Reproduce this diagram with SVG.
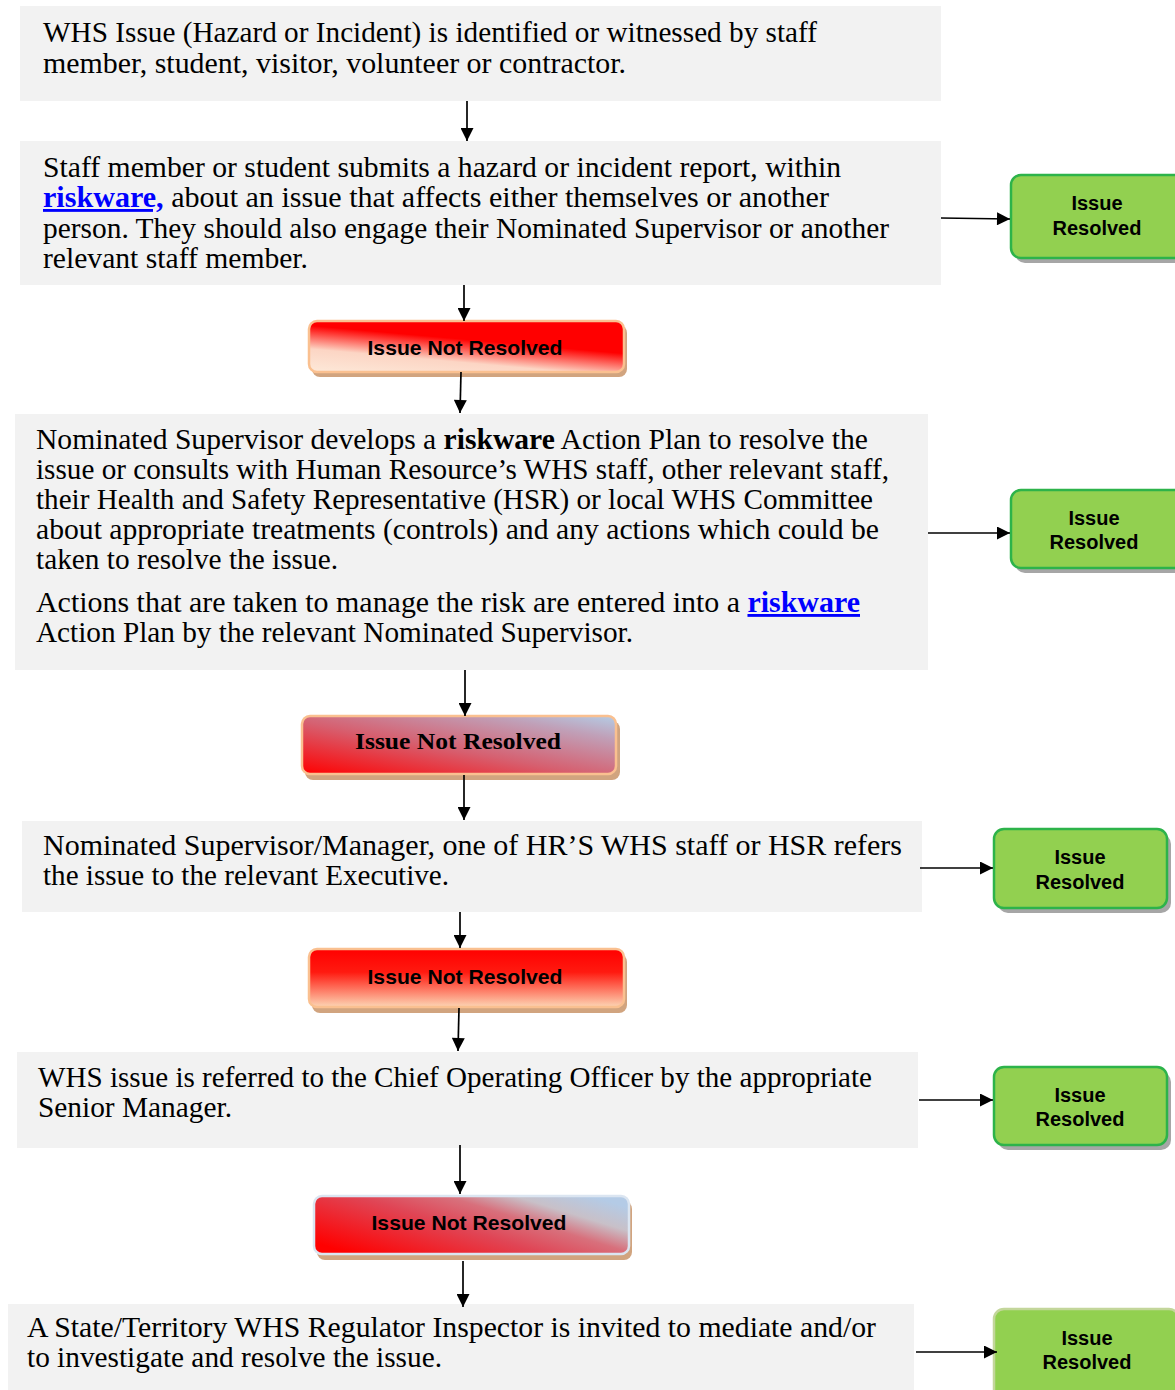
<svg xmlns="http://www.w3.org/2000/svg" width="1175" height="1390" viewBox="0 0 1175 1390">
<defs>
<style>
.box{fill:#f2f2f2}
.t{font-family:"Liberation Serif","Times New Roman",serif;font-size:28.5px;fill:#000}
.b{font-weight:bold}
.lnk{font-weight:bold;fill:#0000ff;text-decoration:underline}
.nr{font-family:"Liberation Sans",Arial,sans-serif;font-size:21px;font-weight:bold;fill:#000;text-anchor:middle}
.nrs{font-family:"Liberation Serif","Times New Roman",serif;font-size:23px;font-weight:bold;fill:#000;text-anchor:middle}
.gr{font-family:"Liberation Sans",Arial,sans-serif;font-size:20px;font-weight:bold;fill:#000;text-anchor:middle}
.rshadow{fill:#d1a47f}
.gshadow{fill:#a6a6a6}
.gbox{fill:#92d050;stroke:#2db34a;stroke-width:2.5}
.conn line{stroke:#000;stroke-width:1.7}
</style>
<marker id="ah" viewBox="0 0 10 10" refX="10" refY="5" markerWidth="15" markerHeight="13" markerUnits="userSpaceOnUse" orient="auto">
<path d="M0,0 L10,5 L0,10 z" fill="#000"/>
</marker>
<linearGradient id="g1" x1="0" y1="1" x2="0.55" y2="0" >
<stop offset="0" stop-color="#fde9d9"/>
<stop offset="0.35" stop-color="#fcd5c4"/>
<stop offset="0.7" stop-color="#ff0000"/>
<stop offset="1" stop-color="#ff0000"/>
</linearGradient>
<linearGradient id="g2" x1="0" y1="1" x2="1" y2="0">
<stop offset="0" stop-color="#ff0000"/>
<stop offset="0.45" stop-color="#d66070"/>
<stop offset="0.8" stop-color="#c0a0b8"/>
<stop offset="1" stop-color="#b4cde6"/>
</linearGradient>
<linearGradient id="g3" x1="0" y1="0" x2="0" y2="1">
<stop offset="0" stop-color="#ff0000"/>
<stop offset="0.4" stop-color="#ff1a10"/>
<stop offset="1" stop-color="#fcd5b4"/>
</linearGradient>
<linearGradient id="g4" x1="0" y1="0.8" x2="1" y2="0.2">
<stop offset="0" stop-color="#ff0000"/>
<stop offset="0.45" stop-color="#e04555"/>
<stop offset="0.66" stop-color="#d8707c"/>
<stop offset="0.82" stop-color="#c8c0c8"/>
<stop offset="1" stop-color="#b4cbe6"/>
</linearGradient>
</defs>

<g id="step1">
<rect class="box" x="20" y="6" width="921" height="95"/>
<text class="t" x="43" y="42" textLength="774" lengthAdjust="spacingAndGlyphs">WHS Issue (Hazard or Incident) is identified or witnessed by staff</text>
<text class="t" x="43" y="73" textLength="583" lengthAdjust="spacingAndGlyphs">member, student, visitor, volunteer or contractor.</text>
</g>

<g id="step2">
<rect class="box" x="20" y="141" width="921" height="144"/>
<text class="t" x="43" y="177" textLength="798" lengthAdjust="spacingAndGlyphs">Staff member or student submits a hazard or incident report, within</text>
<text class="t" x="43" y="207" textLength="786" lengthAdjust="spacingAndGlyphs"><tspan class="lnk">riskware,</tspan> about an issue that affects either themselves or another</text>
<text class="t" x="43" y="238" textLength="846" lengthAdjust="spacingAndGlyphs">person. They should also engage their Nominated Supervisor or another</text>
<text class="t" x="43" y="268" textLength="265" lengthAdjust="spacingAndGlyphs">relevant staff member.</text>
</g>

<g id="notres1">
<rect class="rshadow" x="312" y="325" width="315" height="52" rx="8"/>
<rect x="309" y="321" width="315" height="51" rx="8" fill="url(#g1)" stroke="#fac090" stroke-width="2.5"/>
<text class="nr" x="465" y="355" textLength="195" lengthAdjust="spacingAndGlyphs">Issue Not Resolved</text>
</g>

<g id="step3">
<rect class="box" x="15" y="414" width="913" height="256"/>
<text class="t" x="36" y="449" textLength="832" lengthAdjust="spacingAndGlyphs">Nominated Supervisor develops a <tspan class="b">riskware</tspan> Action Plan to resolve the</text>
<text class="t" x="36" y="479" textLength="853" lengthAdjust="spacingAndGlyphs">issue or consults with Human Resource’s WHS staff, other relevant staff,</text>
<text class="t" x="36" y="509" textLength="837" lengthAdjust="spacingAndGlyphs">their Health and Safety Representative (HSR) or local WHS Committee</text>
<text class="t" x="36" y="539" textLength="843" lengthAdjust="spacingAndGlyphs">about appropriate treatments (controls) and any actions which could be</text>
<text class="t" x="36" y="569" textLength="302" lengthAdjust="spacingAndGlyphs">taken to resolve the issue.</text>
<text class="t" x="36" y="612" textLength="824" lengthAdjust="spacingAndGlyphs">Actions that are taken to manage the risk are entered into a <tspan class="lnk">riskware</tspan></text>
<text class="t" x="36" y="642" textLength="597" lengthAdjust="spacingAndGlyphs">Action Plan by the relevant Nominated Supervisor.</text>
</g>

<g id="notres2">
<rect class="rshadow" x="305" y="721" width="315" height="59" rx="8"/>
<rect x="302" y="716" width="314" height="58" rx="8" fill="url(#g2)" stroke="#fac090" stroke-width="2.5"/>
<text class="nrs" x="458" y="749" textLength="206" lengthAdjust="spacingAndGlyphs">Issue Not Resolved</text>
</g>

<g id="step4">
<rect class="box" x="22" y="821" width="900" height="91"/>
<text class="t" x="43" y="855" textLength="859" lengthAdjust="spacingAndGlyphs">Nominated Supervisor/Manager, one of HR’S WHS staff or HSR refers</text>
<text class="t" x="43" y="885" textLength="406" lengthAdjust="spacingAndGlyphs">the issue to the relevant Executive.</text>
</g>

<g id="notres3">
<rect class="rshadow" x="312" y="954" width="315" height="59" rx="8"/>
<rect x="309" y="949" width="315" height="58" rx="8" fill="url(#g3)" stroke="#fac090" stroke-width="2.5"/>
<text class="nr" x="465" y="984" textLength="195" lengthAdjust="spacingAndGlyphs">Issue Not Resolved</text>
</g>

<g id="step5">
<rect class="box" x="17" y="1052" width="901" height="96"/>
<text class="t" x="38" y="1087" textLength="834" lengthAdjust="spacingAndGlyphs">WHS issue is referred to the Chief Operating Officer by the appropriate</text>
<text class="t" x="38" y="1117" textLength="194" lengthAdjust="spacingAndGlyphs">Senior Manager.</text>
</g>

<g id="notres4">
<rect class="rshadow" x="317" y="1201" width="315" height="59" rx="8"/>
<rect x="314" y="1196" width="315" height="58" rx="8" fill="url(#g4)" stroke="#dbe5f1" stroke-width="2.5"/>
<text class="nr" x="469" y="1230" textLength="195" lengthAdjust="spacingAndGlyphs">Issue Not Resolved</text>
</g>

<g id="step6">
<rect class="box" x="8" y="1304" width="906" height="86"/>
<text class="t" x="27" y="1337" textLength="849" lengthAdjust="spacingAndGlyphs">A State/Territory WHS Regulator Inspector is invited to mediate and/or</text>
<text class="t" x="27" y="1367" textLength="415" lengthAdjust="spacingAndGlyphs">to investigate and resolve the issue.</text>
</g>

<g id="resolved1">
<rect class="gshadow" x="1015" y="180" width="175" height="83" rx="10"/>
<rect class="gbox" x="1011" y="175" width="175" height="83" rx="10"/>
<text class="gr" x="1097" y="210">Issue</text>
<text class="gr" x="1097" y="235">Resolved</text>
</g>

<g id="resolved2">
<rect class="gshadow" x="1015" y="495" width="175" height="78" rx="10"/>
<rect class="gbox" x="1011" y="490" width="175" height="78" rx="10"/>
<text class="gr" x="1094" y="525">Issue</text>
<text class="gr" x="1094" y="549">Resolved</text>
</g>

<g id="resolved3">
<rect class="gshadow" x="998" y="834" width="173" height="79" rx="10"/>
<rect class="gbox" x="994" y="829" width="173" height="79" rx="10"/>
<text class="gr" x="1080" y="864">Issue</text>
<text class="gr" x="1080" y="889">Resolved</text>
</g>

<g id="resolved4">
<rect class="gshadow" x="998" y="1072" width="173" height="78" rx="10"/>
<rect class="gbox" x="994" y="1067" width="173" height="78" rx="10"/>
<text class="gr" x="1080" y="1102">Issue</text>
<text class="gr" x="1080" y="1126">Resolved</text>
</g>

<g id="resolved5">
<rect class="gshadow" x="998" y="1314" width="185" height="90" rx="10"/>
<rect x="994" y="1309" width="185" height="90" rx="10" fill="#92d050" stroke="#c3d69b" stroke-width="2.5"/>
<text class="gr" x="1087" y="1345">Issue</text>
<text class="gr" x="1087" y="1369">Resolved</text>
</g>

<g id="connectors" class="conn">
<line x1="467" y1="101" x2="467" y2="141" marker-end="url(#ah)"/>
<line x1="464" y1="285" x2="464" y2="321" marker-end="url(#ah)"/>
<line x1="461" y1="372" x2="460" y2="413" marker-end="url(#ah)"/>
<line x1="465" y1="670" x2="465" y2="716" marker-end="url(#ah)"/>
<line x1="464" y1="775" x2="464" y2="820" marker-end="url(#ah)"/>
<line x1="460" y1="912" x2="460" y2="948" marker-end="url(#ah)"/>
<line x1="459" y1="1008" x2="458" y2="1051" marker-end="url(#ah)"/>
<line x1="460" y1="1145" x2="460" y2="1194" marker-end="url(#ah)"/>
<line x1="463" y1="1261" x2="463" y2="1307" marker-end="url(#ah)"/>
<line x1="941" y1="218" x2="1010" y2="219" marker-end="url(#ah)"/>
<line x1="928" y1="533" x2="1010" y2="533" marker-end="url(#ah)"/>
<line x1="920" y1="868" x2="993" y2="868" marker-end="url(#ah)"/>
<line x1="919" y1="1100" x2="993" y2="1100" marker-end="url(#ah)"/>
<line x1="916" y1="1352" x2="997" y2="1352" marker-end="url(#ah)"/>
</g>
</svg>
